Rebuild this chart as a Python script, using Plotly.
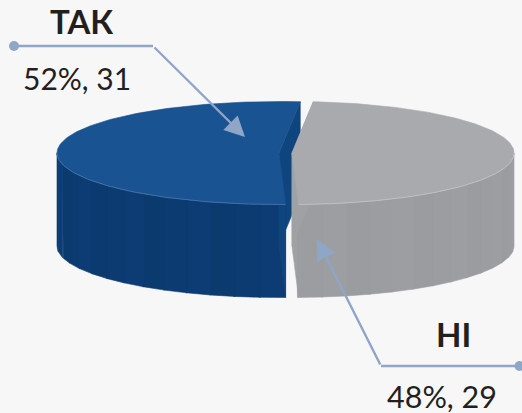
import numpy as np
import plotly.graph_objects as go

categories = ["ТАК", "НІ"]
values = [31, 29]
shares = [52, 48]
slice_colors = ["#1A5391", "#A9AAAE"]
side_dark = ["#0B3A6F", "#9B9CA0"]
side_light = ["#0C3C73", "#9D9EA2"]
wall_colors = ["#0F457F", "#A0A1A5"]
rim_colors = ["#4A76A8", "#C4C5C8"]
leader = "#8FA6C6"
bg = "#F7F7F8"

RX, RY, DEPTH, CY = 222, 51.5, 93, 153
CX = [279, 292]
START = 5.5

sweep = [s / 100 * 360 for s in shares]
# gray runs clockwise from START, blue continues to a full turn
spans = [(START + sweep[1], START + 360), (START, START + sweep[1])]


def px(cx, a):
    r = np.radians(a)
    return cx + RX * np.sin(r), CY - RY * np.cos(r)


def hexmix(c1, c2, t):
    a = [int(c1[i:i + 2], 16) for i in (1, 3, 5)]
    b = [int(c2[i:i + 2], 16) for i in (1, 3, 5)]
    return "#" + "".join(f"{round(x + (y - x) * t):02X}" for x, y in zip(a, b))


def poly(fig, x, y, color, line=None):
    fig.add_trace(go.Scatter(
        x=list(x) + [x[0]], y=list(y) + [y[0]], mode="lines", fill="toself",
        fillcolor=color, line=dict(color=line or color, width=0.6),
        hoverinfo="skip", showlegend=False))


fig = go.Figure()
for i in range(2):
    a0, a1 = spans[i]
    cx = CX[i]
    xa0, ya0 = px(cx, a0)
    xa1, ya1 = px(cx, a1)
    # back cut wall (from centre to the rim at the slice end)
    poly(fig, [cx, xa1, xa1, cx], [CY, ya1, ya1 + DEPTH, CY + DEPTH], wall_colors[i])
    # front side, in narrow bands
    lo, hi = max(a0, 90), min(a1, 270)
    edges = np.linspace(lo, hi, 15)
    for k in range(len(edges) - 1):
        t = np.linspace(edges[k], edges[k + 1] + 0.3, 10)
        sx, sy = px(cx, t)
        c = hexmix(side_light[i], side_dark[i], (k % 3) / 2)
        poly(fig, list(sx) + list(sx[::-1]), list(sy) + list(sy[::-1] + DEPTH), c)
    # front cut wall
    poly(fig, [cx, xa0, xa0, cx], [CY, ya0, ya0 + DEPTH, CY + DEPTH], wall_colors[i])
    # top face
    t = np.linspace(a0, a1, 160)
    sx, sy = px(cx, t)
    poly(fig, [cx] + list(sx), [CY] + list(sy), slice_colors[i])
    tr = np.linspace(max(a0, 90), min(a1, 270), 80)
    rx_, ry_ = px(cx, tr)
    fig.add_trace(go.Scatter(x=rx_, y=ry_, mode="lines", hoverinfo="skip", showlegend=False,
                             line=dict(color=rim_colors[i], width=0.8)))

fig.update_layout(
    width=522, height=413, autosize=False,
    margin=dict(l=0, r=0, t=0, b=0),
    paper_bgcolor=bg, plot_bgcolor=bg, showlegend=False,
    xaxis=dict(range=[0, 522], visible=False, fixedrange=True),
    yaxis=dict(range=[413, 0], visible=False, fixedrange=True),
    font=dict(family="Lato", color="#231F20"),
)

# leaders
for (x0, y0, x1, y1) in [(14, 46, 153, 46), (381, 366, 519, 366)]:
    fig.add_shape(type="line", x0=x0, y0=y0, x1=x1, y1=y1, line=dict(color=leader, width=2.6))
for (xc, yc) in [(14, 46), (519.5, 366)]:
    fig.add_shape(type="circle", x0=xc - 5, x1=xc + 5, y0=yc - 5, y1=yc + 5,
                  fillcolor=leader, line=dict(width=0))
for (ax, ay, x, y) in [(153, 46, 245, 137), (381, 366, 317, 239)]:
    fig.add_annotation(x=x, y=y, ax=ax, ay=ay, xref="x", yref="y", axref="x", ayref="y",
                       showarrow=True, arrowhead=2, arrowsize=1.7, arrowwidth=2.4,
                       arrowcolor=leader, text="")

labels = [(categories[0], 81, 21, True, 33), (f"{shares[0]}%, {values[0]}", 77, 78, False, 30),
          (categories[1], 453, 334, True, 33), (f"{shares[1]}%, {values[1]}", 442, 396, False, 30.5)]
for text, x, y, bold, size in labels:
    fig.add_annotation(x=x, y=y, xref="x", yref="y", showarrow=False,
                       text=f"<b>{text}</b>" if bold else text,
                       font=dict(family="Lato", size=size, color="#231F20"))

fig.write_html("out.html", config=dict(displayModeBar=False),
               post_script="document.body.style.margin='0';document.body.style.overflow='hidden';")
